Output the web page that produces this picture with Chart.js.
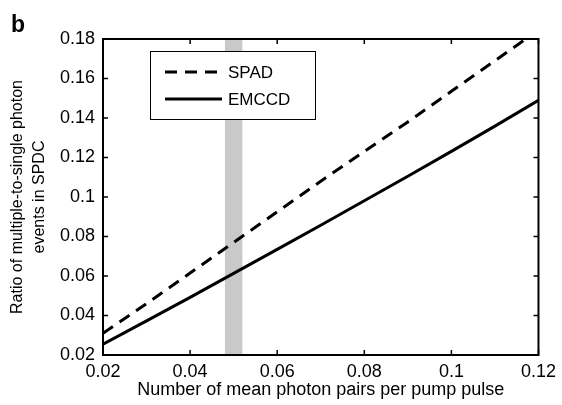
<!DOCTYPE html>
<html lang="en">
<head>
    <meta charset="UTF-8">
    <title>Multiple-to-single photon ratio</title>
    <script src="https://cdn.jsdelivr.net/npm/chart.js"></script>
    <style>
        body { margin: 0; background: #fff; }
        #wrap { width: 562px; height: 405px; }
    </style>
</head>
<body>
    <div id="wrap"><canvas id="ratioChart" width="562" height="405"></canvas></div>

    <script>
        // data
        const pairs = [0.02, 0.03, 0.04, 0.05, 0.06, 0.07, 0.08, 0.09, 0.10, 0.11, 0.12];
        const spad = [0.031, 0.046, 0.0615, 0.077, 0.0925, 0.108, 0.123, 0.138, 0.1535, 0.169, 0.1845];
        const emccd = [0.0255, 0.0373, 0.0492, 0.0613, 0.0735, 0.0857, 0.0981, 0.1105, 0.1231, 0.1359, 0.149];
        const bandRange = [0.048, 0.052];
        const xTitle = 'Number of mean photon pairs per pump pulse';
        const yTitle = ['Ratio of multiple-to-single photon', 'events in SPDC'];

        const FONT = '"Liberation Sans", Arial, sans-serif';
        const fmt = v => String(+v.toFixed(2));

        // grey band + inward ticks, box, legend, panel letter
        const decor = {
            id: 'decor',
            beforeDatasetsDraw(chart) {
                const { ctx, chartArea: a, scales } = chart;
                const x0 = scales.x.getPixelForValue(bandRange[0]);
                const x1 = scales.x.getPixelForValue(bandRange[1]);
                ctx.save();
                ctx.fillStyle = '#c9c9c9';
                ctx.fillRect(x0, a.top, x1 - x0, a.bottom - a.top);
                ctx.restore();
            },
            afterDraw(chart) {
                const { ctx, chartArea: a, scales } = chart;
                ctx.save();
                ctx.strokeStyle = '#000';
                ctx.lineWidth = 1.5;
                const tl = 5;
                scales.x.ticks.forEach(t => {
                    const px = scales.x.getPixelForValue(t.value);
                    ctx.beginPath();
                    ctx.moveTo(px, a.bottom); ctx.lineTo(px, a.bottom - tl);
                    ctx.moveTo(px, a.top); ctx.lineTo(px, a.top + tl);
                    ctx.stroke();
                });
                scales.y.ticks.forEach(t => {
                    const py = scales.y.getPixelForValue(t.value);
                    ctx.beginPath();
                    ctx.moveTo(a.left, py); ctx.lineTo(a.left + tl, py);
                    ctx.moveTo(a.right, py); ctx.lineTo(a.right - tl, py);
                    ctx.stroke();
                });
                ctx.lineWidth = 2;
                ctx.strokeRect(a.left, a.top, a.right - a.left, a.bottom - a.top);

                // legend box
                const lx = 150, ly = 51, lw = 165, lh = 68;
                ctx.fillStyle = '#fff';
                ctx.fillRect(lx, ly, lw, lh);
                ctx.lineWidth = 1;
                ctx.strokeRect(lx + 0.5, ly + 0.5, lw, lh);
                chart.data.datasets.forEach((ds, i) => {
                    const yy = 72 + i * 27;
                    ctx.beginPath();
                    ctx.lineWidth = 3;
                    ctx.setLineDash(ds.borderDash || []);
                    ctx.moveTo(165, yy); ctx.lineTo(222, yy);
                    ctx.stroke();
                    ctx.setLineDash([]);
                    ctx.fillStyle = '#000';
                    ctx.font = '17px ' + FONT;
                    ctx.textBaseline = 'middle';
                    ctx.fillText(ds.label, 228, yy + 1);
                });

                ctx.font = 'bold 23px ' + FONT;
                ctx.textBaseline = 'alphabetic';
                ctx.fillText('b', 11, 32);
                ctx.restore();
            }
        };

        new Chart(document.getElementById('ratioChart'), {
            type: 'line',
            data: {
                datasets: [{
                    label: 'SPAD',
                    data: pairs.map((p, i) => ({ x: p, y: spad[i] })),
                    borderColor: '#000',
                    borderWidth: 3,
                    borderDash: [12, 8],
                    pointRadius: 0
                }, {
                    label: 'EMCCD',
                    data: pairs.map((p, i) => ({ x: p, y: emccd[i] })),
                    borderColor: '#000',
                    borderWidth: 3,
                    pointRadius: 0
                }]
            },
            options: {
                responsive: false,
                animation: false,
                devicePixelRatio: 1,
                layout: { padding: { top: 39, right: 21, left: 0, bottom: 0 } },
                plugins: { legend: { display: false }, tooltip: { enabled: false } },
                scales: {
                    x: {
                        type: 'linear',
                        min: 0.02, max: 0.12,
                        ticks: { stepSize: 0.02, callback: fmt, color: '#000', font: { family: FONT, size: 18 }, padding: 6, maxRotation: 0 },
                        grid: { display: false, drawTicks: false },
                        border: { display: false },
                        title: { display: true, text: xTitle, color: '#000', font: { family: FONT, size: 18 }, padding: { top: 0, bottom: 4 } },
                        afterFit(scale) { scale.height = 50; }
                    },
                    y: {
                        min: 0.02, max: 0.18,
                        ticks: { stepSize: 0.02, callback: fmt, color: '#000', font: { family: FONT, size: 18 }, padding: 8 },
                        grid: { display: false, drawTicks: false },
                        border: { display: false },
                        title: { display: true, text: yTitle, color: '#000', font: { family: FONT, size: 16, lineHeight: 1.35 }, padding: { top: 7, bottom: 0 } },
                        afterFit(scale) { scale.width = 103; }
                    }
                }
            },
            plugins: [decor]
        });
    </script>
</body>
</html>
